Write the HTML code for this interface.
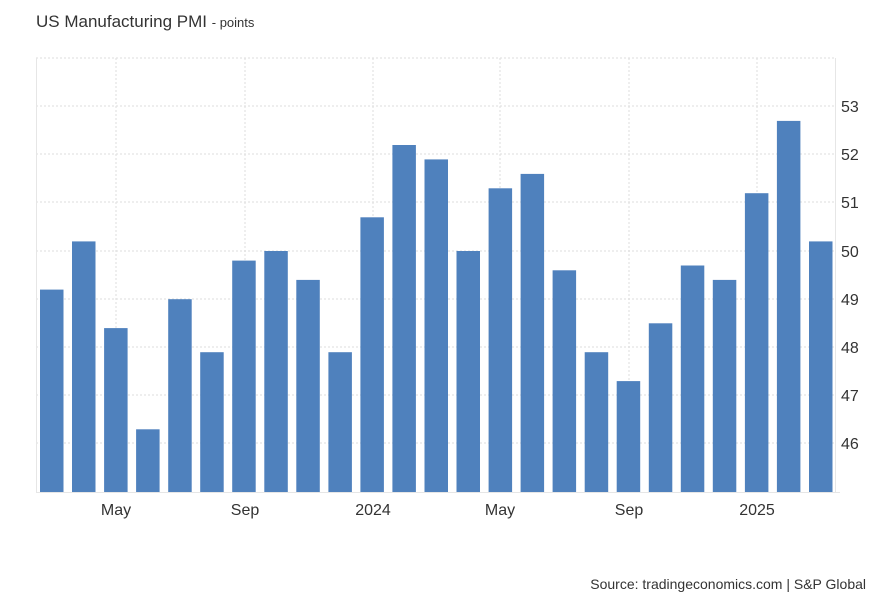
<!DOCTYPE html>
<html><head><meta charset="utf-8"><style>
body{margin:0;background:#fff;font-family:"Liberation Sans",Arial,sans-serif;}
</style></head><body>
<svg width="882" height="603" xmlns="http://www.w3.org/2000/svg" font-family="Liberation Sans, Arial, sans-serif">
<rect width="882" height="603" fill="#fff"/>
<text x="36" y="27" font-size="17" fill="#333">US Manufacturing PMI <tspan font-size="13">- points</tspan></text>
<g stroke="#ddd" stroke-width="1" stroke-dasharray="2,2">
<line x1="36" x2="835" y1="58" y2="58"/>
<line x1="36" x2="835" y1="106" y2="106"/>
<line x1="36" x2="835" y1="154" y2="154"/>
<line x1="36" x2="835" y1="202" y2="202"/>
<line x1="36" x2="835" y1="251" y2="251"/>
<line x1="36" x2="835" y1="299" y2="299"/>
<line x1="36" x2="835" y1="347" y2="347"/>
<line x1="36" x2="835" y1="395" y2="395"/>
<line x1="36" x2="835" y1="443" y2="443"/>
<line x1="116" x2="116" y1="58" y2="492"/>
<line x1="245" x2="245" y1="58" y2="492"/>
<line x1="373" x2="373" y1="58" y2="492"/>
<line x1="500" x2="500" y1="58" y2="492"/>
<line x1="629" x2="629" y1="58" y2="492"/>
<line x1="757" x2="757" y1="58" y2="492"/>
</g>
<line x1="36.5" x2="36.5" y1="58" y2="492" stroke="#e6e6e6"/>
<line x1="835.5" x2="835.5" y1="58" y2="492" stroke="#e6e6e6"/>
<line x1="36" x2="840" y1="492.5" y2="492.5" stroke="#e6e6e6"/>
<g id="bars" fill="#4f81bd"></g>
<g font-size="16" fill="#333">
<text x="841" y="112">53</text><text x="841" y="160">52</text><text x="841" y="208">51</text>
<text x="841" y="257">50</text><text x="841" y="305">49</text><text x="841" y="353">48</text>
<text x="841" y="401">47</text><text x="841" y="449">46</text>
</g>
<g font-size="16" fill="#333" text-anchor="middle">
<text x="116" y="515">May</text><text x="245" y="515">Sep</text><text x="373" y="515">2024</text>
<text x="500" y="515">May</text><text x="629" y="515">Sep</text><text x="757" y="515">2025</text>
</g>
<text x="866" y="589" font-size="14" fill="#333" text-anchor="end">Source: tradingeconomics.com | S&amp;P Global</text>
</svg>
<script>
var v=[49.2,50.2,48.4,46.3,49.0,47.9,49.8,50.0,49.4,47.9,50.7,52.2,51.9,50.0,51.3,51.6,49.6,47.9,47.3,48.5,49.7,49.4,51.2,52.7,50.2];
var g=document.getElementById('bars'),s='';
v.forEach(function(d,i){var x=40+i*32.04,y=492-(d-45)*48.2;
s+='<rect x="'+x.toFixed(1)+'" y="'+y.toFixed(1)+'" width="23.5" height="'+(492-y).toFixed(1)+'"/>';});
g.innerHTML=s;
</script>
</body></html>
